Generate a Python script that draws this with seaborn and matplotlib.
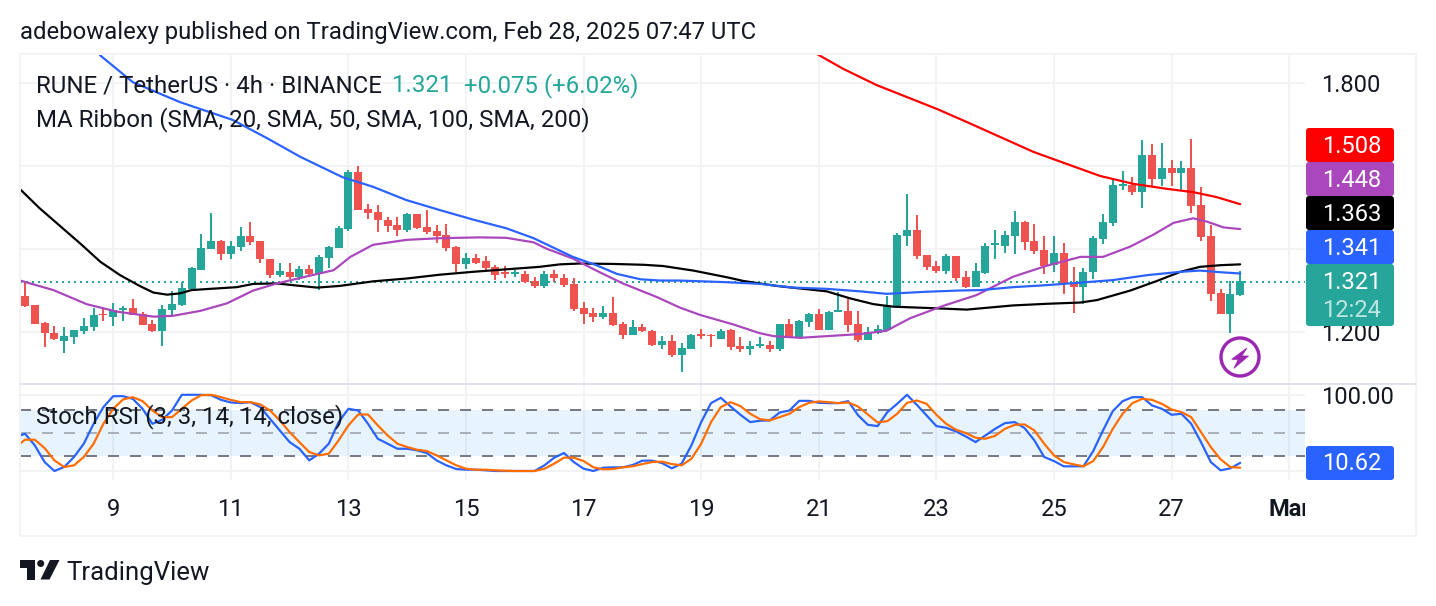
import numpy as np
import pandas as pd
import seaborn as sns
import matplotlib
matplotlib.use("Agg")
import matplotlib.pyplot as plt
from matplotlib.patches import Rectangle, FancyBboxPatch, Circle, Polygon
from matplotlib.transforms import Bbox

# ---------- data ----------
opens = [1.287,1.265,1.221,1.198,1.179,1.189,1.203,1.213,1.244,1.235,
1.253,1.257,1.243,1.219,1.203,1.253,1.265,1.304,1.350,1.401,
1.420,1.389,1.406,1.431,1.419,1.376,1.337,1.345,1.332,1.352,
1.340,1.378,1.402,1.448,1.585,1.496,1.489,1.470,1.458,1.446,
1.484,1.453,1.443,1.434,1.405,1.364,1.378,1.371,1.357,1.345,
1.340,1.340,1.323,1.311,1.340,1.330,1.316,1.258,1.246,1.236,
1.246,1.219,1.193,1.212,1.202,1.169,1.178,1.145,1.159,1.195,
1.193,1.183,1.205,1.166,1.159,1.166,1.169,1.159,1.219,1.186,
1.224,1.243,1.205,1.248,1.251,1.219,1.181,1.198,1.205,1.263,
1.431,1.446,1.385,1.359,1.347,1.383,1.332,1.308,1.342,1.410,
1.407,1.431,1.465,1.419,1.398,1.361,1.390,1.318,1.308,1.345,
1.424,1.463,1.552,1.554,1.537,1.626,1.569,1.595,1.583,1.595,
1.506,1.431,1.294,1.243,1.289]
closes = [1.263,1.220,1.198,1.182,1.190,1.205,1.214,1.241,1.240,1.253,
1.257,1.242,1.218,1.202,1.255,1.267,1.306,1.354,1.402,1.419,
1.389,1.407,1.431,1.417,1.377,1.337,1.347,1.332,1.352,1.340,
1.381,1.405,1.451,1.585,1.494,1.487,1.470,1.455,1.446,1.484,
1.451,1.441,1.431,1.402,1.364,1.378,1.366,1.354,1.337,1.340,
1.344,1.320,1.311,1.340,1.329,1.313,1.255,1.243,1.236,1.246,
1.217,1.193,1.212,1.202,1.169,1.178,1.145,1.161,1.193,1.190,
1.190,1.202,1.164,1.159,1.166,1.171,1.159,1.219,1.186,1.226,
1.243,1.205,1.248,1.253,1.217,1.181,1.200,1.207,1.265,1.434,
1.446,1.383,1.357,1.347,1.383,1.330,1.308,1.347,1.407,1.414,
1.434,1.465,1.417,1.395,1.359,1.390,1.318,1.308,1.345,1.426,
1.465,1.554,1.557,1.537,1.626,1.569,1.595,1.583,1.595,1.504,
1.429,1.292,1.243,1.292,1.323]
highs = [1.321,1.265,1.223,1.214,1.212,1.206,1.233,1.258,1.255,1.269,
1.263,1.279,1.247,1.229,1.265,1.299,1.320,1.356,1.436,1.487,
1.422,1.419,1.453,1.465,1.419,1.377,1.366,1.366,1.359,1.361,
1.385,1.407,1.455,1.590,1.600,1.508,1.506,1.477,1.477,1.487,
1.484,1.494,1.458,1.460,1.407,1.390,1.388,1.383,1.361,1.359,
1.349,1.347,1.332,1.347,1.349,1.340,1.330,1.272,1.258,1.263,
1.284,1.224,1.229,1.219,1.205,1.190,1.193,1.174,1.195,1.207,
1.195,1.207,1.207,1.188,1.178,1.188,1.178,1.219,1.231,1.229,
1.246,1.255,1.251,1.296,1.279,1.251,1.212,1.217,1.287,1.438,
1.532,1.482,1.385,1.371,1.388,1.383,1.347,1.366,1.414,1.446,
1.443,1.491,1.467,1.460,1.431,1.431,1.414,1.357,1.354,1.431,
1.484,1.569,1.588,1.573,1.663,1.653,1.655,1.614,1.612,1.665,
1.549,1.458,1.304,1.323,1.347]
lows = [1.261,1.220,1.165,1.181,1.150,1.172,1.195,1.202,1.226,1.215,
1.226,1.240,1.217,1.200,1.167,1.239,1.263,1.303,1.349,1.400,
1.373,1.377,1.394,1.410,1.367,1.330,1.332,1.328,1.325,1.333,
1.301,1.354,1.402,1.443,1.494,1.472,1.441,1.441,1.431,1.441,
1.448,1.436,1.414,1.395,1.345,1.352,1.364,1.347,1.325,1.330,
1.332,1.318,1.306,1.306,1.320,1.308,1.251,1.219,1.224,1.231,
1.214,1.183,1.193,1.201,1.166,1.159,1.140,1.104,1.159,1.183,
1.164,1.183,1.157,1.152,1.145,1.161,1.152,1.154,1.186,1.186,
1.212,1.205,1.205,1.248,1.200,1.176,1.181,1.195,1.202,1.261,
1.407,1.376,1.349,1.342,1.340,1.323,1.306,1.308,1.340,1.376,
1.390,1.388,1.398,1.388,1.340,1.345,1.292,1.246,1.267,1.328,
1.412,1.455,1.542,1.530,1.499,1.552,1.552,1.552,1.540,1.487,
1.419,1.275,1.243,1.198,1.287]

black_x = [-0.5,1.5,3.6,5.6,7.7,9.7,11.7,13.1,14.5,15.8,17,18.9,21.6,23.3,25.7,27.7,29.8,32.1,35.5,39,42.3,45.7,49.1,52.5,54.6,56.6,60,63.1,65.1,68.2,71.6,73.3,76.7,81.8,84.2,86.6,88.6,92,96.1,100.8,104.3,107.7,109.4,112.8,115.5,117.9,119.9,122,124]
black_y = [1.544,1.498,1.455,1.414,1.369,1.337,1.311,1.295,1.290,1.293,1.301,1.304,1.308,1.316,1.317,1.312,1.307,1.311,1.322,1.329,1.338,1.345,1.351,1.357,1.363,1.365,1.364,1.362,1.359,1.348,1.332,1.323,1.311,1.298,1.281,1.267,1.261,1.258,1.254,1.264,1.268,1.271,1.277,1.300,1.323,1.345,1.357,1.361,1.363]
purple_x = [-0.5,2.9,6.3,9.4,13.1,15.1,17.9,20.6,23.3,25.7,28.4,31.5,33.2,35.5,38.9,42.3,46.4,49.1,51.9,53.2,55.9,58.3,61,64.5,66.8,68.9,72.3,75,76.4,79.1,81.8,85.2,87.9,90.3,93.7,97.1,100.8,104.3,107.7,110,112.8,115.1,117.2,119.2,120.6,122.3,124]
purple_y = [1.324,1.301,1.267,1.249,1.237,1.239,1.251,1.269,1.300,1.317,1.332,1.349,1.381,1.410,1.422,1.426,1.428,1.427,1.416,1.401,1.377,1.348,1.317,1.284,1.259,1.241,1.218,1.197,1.190,1.186,1.190,1.195,1.203,1.233,1.263,1.289,1.333,1.360,1.381,1.381,1.406,1.434,1.463,1.474,1.466,1.452,1.448]
blue_x = [7.65,11,15.8,21.2,24.7,28.1,32.4,35.5,38.9,42.3,45.7,49.1,51.9,55.9,58.3,60.4,62.8,64.8,66.8,71.6,75,78.4,81.8,85.2,87.9,92,95.4,97.5,100.8,104.3,107.7,111,114.5,117.9,119.9,122,124]
blue_y = [1.867,1.802,1.754,1.711,1.667,1.622,1.573,1.550,1.518,1.494,1.471,1.450,1.426,1.381,1.361,1.340,1.327,1.324,1.324,1.320,1.316,1.307,1.304,1.298,1.292,1.297,1.300,1.301,1.308,1.313,1.319,1.325,1.337,1.345,1.348,1.344,1.341]
red_x = [80.8,83.5,86.9,90,93.1,96.1,99.5,102.9,106.3,109.7,113.1,116.5,119.2,121.6,124]
red_y = [1.870,1.834,1.795,1.766,1.737,1.706,1.670,1.634,1.605,1.576,1.557,1.545,1.537,1.525,1.508]

stoch_k = [46.5,48.7,33.5,11.7,0,5.2,18.3,35.7,61.7,83.5,97.8,97.8,94.3,81.3,61.7,67,79.1,99.6,99.6,99.6,99,93,89.6,88.7,90,83.5,68.3,53,37.8,29.1,13.9,22.6,35.7,63.9,81.3,79.1,61.7,42.2,35.7,29.1,29.1,27,23.5,13.9,7.4,2.6,1.7,1.7,0.9,0,
0,0,0,0,7.4,17.4,23.5,11.7,3,0,4.3,4.8,4.8,7.8,13.5,13.5,10.4,3.5,9.6,33.5,63.9,88.7,95.7,84.3,73.5,63.9,65.7,66.1,76.5,79.1,91.7,91.7,89.1,88.7,88.7,91.3,73,60.4,58.7,77,87.8,99.6,86.5,72.6,58.7,56.5,51.7,45.2,37.8,46.5,55.2,62.6,63.9,56,40,18.3,13,6.1,6.1,6.1,26,53,78.3,91.3,96.5,96.5,85.7,81.3,73.5,74.8,61.7,37.8,11.7,0.9,3.5,10.6]
stoch_d = [35.7,40.9,40.9,30,13.9,5.2,7.4,18.3,35.7,61.7,81.3,93.5,96.5,91.3,79.1,70.4,70.4,81.3,92.2,99.1,99.6,96.5,93,90,90,87,79.1,66.1,50.9,37.8,24.8,20.4,22.6,40,59.6,73.9,73.9,59.6,46.5,35.7,31.3,27.8,26.1,20.4,13.9,7.4,3,1.7,1.7,0.9,
0.4,0,0,0,3,9.6,17.4,17.4,13,4.8,2.2,2.6,4.8,6.1,9.1,11.7,12.2,9.1,7.4,16,35.7,63.9,83.5,90,84.8,74.8,67.8,66.1,70.4,74.8,83.5,89.1,90.9,90,88.7,89.6,84.3,73.9,63.5,65.2,74.8,89.1,92.2,87.8,73.5,61.7,53.9,49.6,43.5,42.2,46,55.2,60.4,60.9,53,35.7,20.4,11.7,8.7,6.1,13,31.3,55.2,74.8,88.7,94.3,93,87.8,80.4,77,70.4,50.9,31.3,15.2,5.2,4.3]

day_labels = ["9","11","13","15","17","19","21","23","25","27","Mar"]
day_ticks = [9,21,33,45,57,69,81,93,105,117,129]
price_ticks = [1.2,1.4,1.6,1.8]
price_labels = ["1.200","","","1.800"]
last_price = 1.321
badges = [("1.508","#ff0000"),("1.448","#ab47bc"),("1.363","#000000"),("1.341","#2962ff")]

# ---------- style ----------
W, H = 1436, 606
sns.set_theme(style="white")
plt.rcParams["font.family"] = ["Roboto", "DejaVu Sans"]
plt.rcParams["lines.scale_dashes"] = False
PX = 0.72
INK = "#131722"; GRID = "#f2f3f5"; UP = "#26a69a"; DOWN = "#ef5350"
FS = 17.15
LEG = 17.3
MA_LW = 2.2*PX

fig = plt.figure(figsize=(W/100, H/100), dpi=100, facecolor="white")
def pane(left, top, right, bottom):
    return fig.add_axes([left/W, 1-bottom/H, (right-left)/W, (bottom-top)/H])

ax = pane(20, 54, 1305, 384)
ax2 = pane(20, 385, 1305, 480)
xlim = ((20-25)/9.8, (1305-25)/9.8)
ax.set_xlim(xlim); ax2.set_xlim(xlim)
ax.set_ylim(1.2-(384-332)/415, 1.2+(332-54)/415)
ax2.set_ylim((471-480)/0.765, (471-385)/0.765)

for a in (ax, ax2):
    for s in a.spines.values():
        s.set_visible(False)
    a.set_xticks(day_ticks)
    a.grid(True, color=GRID, lw=2*PX)
    a.set_axisbelow(True)
    a.yaxis.tick_right()
    a.tick_params(axis="both", length=0, labelcolor=INK, labelsize=FS)
    a.set_xlabel(""); a.set_ylabel("")

ax.set_yticks(price_ticks); ax.set_yticklabels(price_labels)
ax.set_xticklabels([])
ax.tick_params(axis="y", pad=16.5*PX)
for lab in ax.get_yticklabels():
    lab.set_ha("left")
ax2.set_yticks([0, 100]); ax2.set_yticklabels(["", "100.00"])
ax2.tick_params(axis="y", pad=16.5*PX)
ax2.set_xticklabels(day_labels)
ax2.tick_params(axis="x", pad=(498-480)*PX)
mar = ax2.get_xticklabels()[-1]
mar.set_fontweight("bold")
mar.set_clip_on(True)
mar.set_clip_box(Bbox([[20, 0], [1305, H]]))

# candles
df = pd.DataFrame({"o": opens, "h": highs, "l": lows, "c": closes})
df["i"] = np.arange(len(df))
colors = np.where(df.c >= df.o, UP, DOWN)
ax.axhline(last_price, color=UP, lw=2*PX, ls=(0, (2*PX, 4*PX)), zorder=1.5)
ax.vlines(df.i, df.l, df.h, colors=colors, lw=2*PX, zorder=3)
ax.bar(df.i, (df.c-df.o).abs(), bottom=df[["o","c"]].min(axis=1), width=0.82,
       color=colors, linewidth=0, zorder=3)

# moving averages
for xs, ys, col in ((black_x, black_y, "#000000"), (purple_x, purple_y, "#ab47bc"),
                    (blue_x, blue_y, "#2962ff"), (red_x, red_y, "#ff0000")):
    sns.lineplot(x=xs, y=ys, color=col, lw=MA_LW, ax=ax, estimator=None, sort=False, zorder=4)
ax.set_xlabel(""); ax.set_ylabel("")
ax.set_xlim(xlim)

# stoch RSI
ax2.axhspan(20, 80, color="#2196f3", alpha=0.1, lw=0, zorder=1)
dash = (0, (11*PX, 11*PX))
ax2.axhline(80, color="#787b86", lw=2*PX, ls=dash, zorder=2)
ax2.axhline(20, color="#787b86", lw=2*PX, ls=dash, zorder=2)
ax2.axhline(50, color="#787b86", alpha=0.55, lw=2*PX, ls=dash, zorder=2)
sx = [-0.5] + list(range(125))
sns.lineplot(x=sx, y=stoch_k, color="#2962ff", lw=MA_LW, ax=ax2, estimator=None, sort=False, zorder=3)
sns.lineplot(x=sx, y=stoch_d, color="#ff6d00", lw=MA_LW, ax=ax2, estimator=None, sort=False, zorder=4)
ax2.set_xlabel(""); ax2.set_ylabel("")
ax2.set_xlim(xlim)

# ---------- overlay in pixel space ----------
ov = fig.add_axes([0, 0, 1, 1], zorder=10)
ov.set_xlim(0, W); ov.set_ylim(H, 0); ov.axis("off"); ov.patch.set_visible(False)
ov.add_patch(Rectangle((20, 54), 1396, 482, fill=False, ec=GRID, lw=2*PX))
ov.plot([20, 1416], [384, 384], color="#e0e3eb", lw=2*PX)

def T(x, y, s, color=INK, size=FS, ha="left", **kw):
    return ov.text(x, y + 1.8, s, color=color, fontsize=size, ha=ha, va="center", **kw)

T(20, 31, "adebowalexy published on TradingView.com, Feb 28, 2025 07:47 UTC", size=17.16)
T(36, 84, "RUNE / TetherUS · 4h · BINANCE", size=LEG)
T(392, 84, "1.321", color=UP, size=LEG)
T(464, 84, "+0.075 (+6.02%)", color=UP, size=LEG)
T(36, 118, "MA Ribbon (SMA, 20, SMA, 50, SMA, 100, SMA, 200)", size=LEG)
T(36, 415, "Stoch RSI (3, 3, 14, 14, close)", size=LEG)

def badge(y0, y1, col):
    ov.add_patch(FancyBboxPatch((1306+3, y0+3), 88-6, y1-y0-6, boxstyle="round,pad=3,rounding_size=3",
                                fc=col, ec="none"))
for k, (txt, col) in enumerate(badges):
    y0 = 128 + 34*k
    badge(y0, y0+34, col)
    T(1352, y0+17, txt, color="white", ha="center")
badge(264, 326, UP)
T(1352, 281, f"{last_price:.3f}", color="white", ha="center")
T(1352, 309, "12:24", color="white", ha="center", alpha=0.7)
badge(446, 480, "#2962ff")
T(1352, 462, "10.62", color="white", ha="center")

# lightning marker
ov.add_patch(Circle((1240, 357), 19, fill=False, ec="#9c27b0", lw=3.4*PX))
ov.add_patch(Polygon([(1247,348),(1231.7,359.3),(1238.3,359.3),(1234,368.3),(1248.5,356),(1241.7,356)],
                     fc="#9c27b0", ec="#9c27b0", lw=0.8*PX))

# TradingView logo
logo = "#131722"
ov.add_patch(Polygon([(20,560),(35,560),(35,579.5),(27,579.5),(27,567.5),(20,567.5)], fc=logo, ec="none"))
ov.add_patch(Circle((40.7,563.5), 3.5, fc=logo, ec="none"))
ov.add_patch(Polygon([(50,560),(59.5,560),(49.5,579.5),(40.5,579.5)], fc=logo, ec="none"))
T(66, 571, "TradingView", size=18.5)

fig.savefig("out.png", dpi=100, facecolor="white")
